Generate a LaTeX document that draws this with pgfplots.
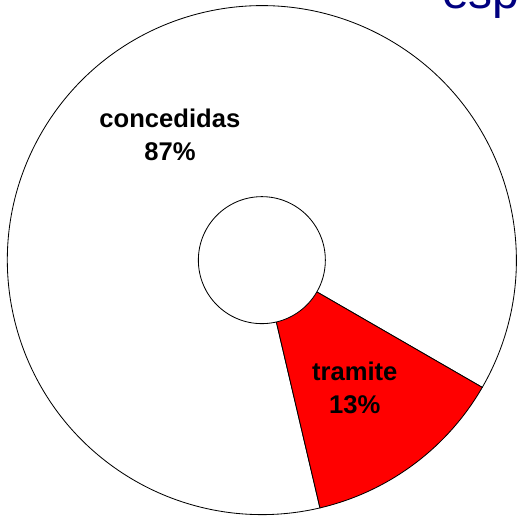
\documentclass[border=0pt]{standalone}
\usepackage{fontspec}
\setmainfont{Liberation Sans}
\usepackage{pgfplots}
\usepackage{pgfplotstable}
\pgfplotsset{compat=1.18}
\definecolor{titleblue}{RGB}{0,0,128}
\pgfplotstableread{
label value
concedidas 87
tramite 13
}\piedata
\begin{document}
\begin{tikzpicture}
\pgfplotstablegetelem{0}{value}\of\piedata \let\vA\pgfplotsretval
\pgfplotstablegetelem{1}{value}\of\piedata \let\vB\pgfplotsretval
\pgfplotstablegetelem{0}{label}\of\piedata \let\lA\pgfplotsretval
\pgfplotstablegetelem{1}{label}\of\piedata \let\lB\pgfplotsretval
\pgfmathsetmacro{\aS}{-30}
\pgfmathsetmacro{\aM}{\aS+3.6*\vA}
\pgfmathsetmacro{\aE}{\aM+3.6*\vB}
\begin{axis}[x=0.01in, y=0.01in, xmin=0, xmax=518, ymin=0, ymax=517,
  hide axis, clip=false]
  \filldraw[fill=white, draw=black, line width=0.6pt]
    (axis cs:262,257) -- ++(\aS:2.545in) arc[start angle=\aS, end angle=\aM, radius=2.545in] -- cycle;
  \filldraw[fill=red, draw=black, line width=0.6pt]
    (axis cs:262,257) -- ++(\aM:2.545in) arc[start angle=\aM, end angle=\aE, radius=2.545in] -- cycle;
  \filldraw[fill=white, draw=black, line width=0.6pt] (axis cs:262,257) circle[radius=0.635in];
  \node[align=center, font=\fontsize{18.5}{23.8}\selectfont\bfseries] at (axis cs:170,382) {\lA\\\vA\%};
  \node[align=center, font=\fontsize{18.5}{23.8}\selectfont\bfseries] at (axis cs:355,129) {\lB\\\vB\%};
  \node[anchor=base west, inner sep=0pt, text=titleblue, font=\fontsize{34.7}{40}\selectfont] at (axis cs:442,509) {esp};
\end{axis}
\pgfresetboundingbox
\useasboundingbox (0,0) rectangle (5.18in,5.17in);
\end{tikzpicture}
\end{document}
